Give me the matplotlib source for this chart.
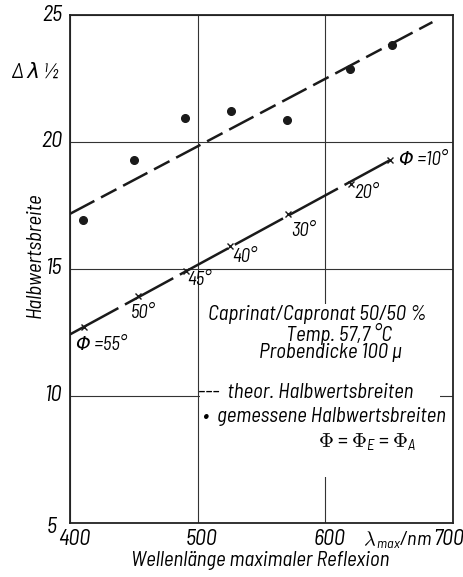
import numpy as np
import matplotlib
matplotlib.use('Agg')
import matplotlib.pyplot as plt
from matplotlib.patches import Rectangle

# measured half-widths (dots)
lam_meas = [410, 450, 490, 526, 570, 619, 652]
hw_meas = [16.93, 19.29, 20.94, 21.2, 20.87, 22.87, 23.82]

# theoretical line for measured data (dashed)
lam_theo = [400, 684]
hw_theo = [17.17, 24.72]

# theoretical half-widths vs angle (crosses)
phi_deg = [10, 20, 30, 40, 45, 50, 55]
lam_phi = [651, 620, 571, 525, 491, 453, 411]
hw_phi = [19.29, 18.35, 17.17, 15.9, 14.92, 13.94, 12.72]
lam_phi_line = [400, 651]
hw_phi_line = [12.42, 19.29]

# angle label positions (data coords)
phi_lbl_x = [658, 623, 573, 527, 492, 448, 405]
phi_lbl_y = [19.3, 18.0, 16.5, 15.45, 14.55, 13.27, 12.0]
phi_lbl_txt = ['\u03a6 =10\u00b0', '20\u00b0', '30\u00b0', '40\u00b0',
               '45\u00b0', '50\u00b0', '\u03a6 =55\u00b0']

xticks = [400, 500, 600, 700]
yticks = [5, 10, 15, 20, 25]

FONT = ['Barlow Semi Condensed', 'DejaVu Sans']
plt.rcParams['font.family'] = FONT
plt.rcParams['font.style'] = 'italic'
plt.rcParams['mathtext.fontset'] = 'custom'
plt.rcParams['mathtext.it'] = 'Barlow Semi Condensed:italic'
plt.rcParams['mathtext.rm'] = 'Barlow Semi Condensed:italic'

fig = plt.figure(figsize=(4.64, 5.77), dpi=100)
ax = fig.add_axes([0.151, 0.094, 0.825, 0.88])
ax.set_xlim(400, 700)
ax.set_ylim(5, 25)

ax.set_xticks(xticks)
ax.set_yticks(yticks)
ax.set_xticklabels([])
ax.set_yticklabels([])
ax.tick_params(length=0)
ax.grid(True, color='#333333', linewidth=0.8)
ax.set_axisbelow(True)
for s in ax.spines.values():
    s.set_linewidth(1.3)
    s.set_color('#222222')

# blank area behind the text block
ax.add_patch(Rectangle((502, 6.8), 188, 6.8, facecolor='white',
                       edgecolor='none', zorder=1))

ax.plot(lam_theo, hw_theo, color='#1a1a1a', lw=1.8,
        dashes=(11, 3, 7, 3), zorder=3)
ax.plot(lam_meas, hw_meas, 'o', color='#1a1a1a', ms=5.5, zorder=4)

ax.plot(lam_phi_line, hw_phi_line, color='#1a1a1a', lw=1.8,
        dashes=(22, 3), zorder=3)
ax.plot(lam_phi, hw_phi, 'x', color='#1a1a1a', ms=4.5, mew=1.0, zorder=4)
for x, y, t in zip(phi_lbl_x, phi_lbl_y, phi_lbl_txt):
    ax.text(x, y, t, fontsize=13.5, ha='left', va='center', zorder=5)

# tick labels by hand (scan style)
for v in yticks[1:]:
    ax.text(-0.02, (v - 5) / 20, str(v), transform=ax.transAxes,
            ha='right', va='center', fontsize=16)
ax.text(-0.035, -0.01, '5', transform=ax.transAxes,
        ha='right', va='center', fontsize=16)
for v in xticks[:-1]:
    ax.text((v - 400) / 300 + 0.01, -0.012, str(v), transform=ax.transAxes,
            ha='center', va='top', fontsize=16)
ax.text(0.99, -0.012, '700', transform=ax.transAxes,
        ha='center', va='top', fontsize=16)
ax.text(0.945, -0.012, r'$\lambda_{\,max}$/nm', transform=ax.transAxes,
        ha='right', va='top', fontsize=14.5)

ax.text(-0.09, 0.888, '\u0394 \u03bb \u00bd', transform=ax.transAxes,
        ha='center', va='center', fontsize=15)
fig.text(0.075, 0.558, 'Halbwertsbreite', rotation=90,
         ha='center', va='center', fontsize=15)
fig.text(0.56, 0.028, 'Wellenl\u00e4nge maximaler Reflexion',
         ha='center', va='center', fontsize=15)

# annotation block
ax.text(594, 13.19, 'Caprinat/Capronat 50/50 %', ha='center', va='center',
        fontsize=15, zorder=5)
ax.text(611, 12.45, 'Temp. 57,7 \u00b0C', ha='center', va='center',
        fontsize=15, zorder=5)
ax.text(604, 11.7, 'Probendicke 100 \u03bc', ha='center', va='center',
        fontsize=15, zorder=5)
ax.text(500.5, 10.15, '---  theor. Halbwertsbreiten', ha='left', va='center',
        fontsize=15, zorder=5)
ax.text(504, 9.2, '\u2022  gemessene Halbwertsbreiten', ha='left', va='center',
        fontsize=15, zorder=5)
ax.text(633, 8.15, r'$\Phi$ = $\Phi_E$ = $\Phi_A$', ha='center', va='center',
        fontsize=15, zorder=5, style='normal')

fig.savefig('out.png', dpi=100)
